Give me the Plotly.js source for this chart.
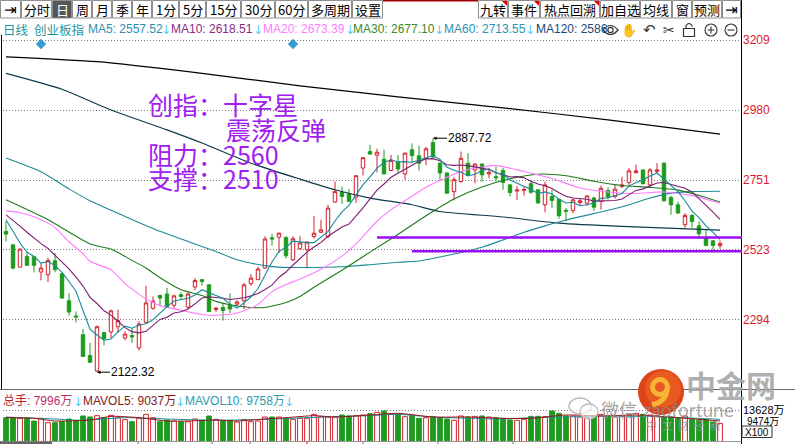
<!DOCTYPE html>
<html>
<head>
<meta charset="utf-8">
<script src="https://cdn.plot.ly/plotly-3.0.1.min.js"></script>
<style>
html,body{margin:0;padding:0;background:#ffffff;overflow:hidden;}
#chart{width:795px;height:444px;}
</style>
</head>
<body>
<div id="chart"></div>
<script>
// ================= DATA =================
const open = [2583,2539,2466,2501,2500,2450,2441,2487,2444,2356,
 2306,2245,2177,2126,2252,2254,2271,2234,2242,2202,
 2285,2331,2373,2378,2341,2376,2335,2401,2425,2408,
 2327,2334,2342,2345,2356,2412,2425,2463,2562,2564,
 2563,2490,2526,2523,2566,2580,2566,2679,2710,2706,
 2695,2790,2844,2832,2819,2782,2811,2771,2850,2830,
 2822,2874,2806,2774,2713,2746,2806,2784,2803,2771,
 2762,2782,2735,2715,2717,2739,2719,2670,2697,2688,
 2652,2651,2677,2675,2692,2681,2717,2697,2730,2743,
 2775,2784,2735,2779,2806,2694,2670,2605,2635,2601,
 2561,2552,2536];
const high = [2615,2540,2527,2517,2502,2479,2496,2512,2446,2381,
 2321,2264,2218,2275,2254,2327,2327,2256,2267,2289,
 2405,2370,2376,2398,2376,2383,2383,2430,2428,2410,
 2335,2349,2381,2358,2414,2443,2467,2567,2575,2579,
 2567,2567,2567,2551,2634,2621,2670,2746,2730,2721,
 2766,2826,2866,2853,2850,2833,2833,2840,2871,2863,
 2860,2887.72,2809,2776,2760,2844,2839,2806,2806,2790,
 2795,2790,2737,2732,2732,2746,2720,2746,2719,2690,
 2659,2690,2690,2700,2697,2733,2727,2735,2762,2790,
 2801,2786,2790,2806,2809,2700,2680,2643,2640,2615,
 2588,2554,2553];
const low = [2550,2458,2464,2470,2449,2423,2417,2449,2362,2307,
 2285,2172,2153,2122.32,2210,2234,2251,2227,2218,2193,
 2283,2327,2338,2333,2329,2361,2329,2390,2405,2320,
 2320,2291,2316,2338,2329,2405,2424,2460,2536,2512,
 2494,2486,2522,2466,2559,2577,2560,2676,2673,2679,
 2677,2766,2833,2776,2770,2781,2775,2752,2806,2782,
 2800,2825,2750,2706,2684,2742,2765,2741,2745,2757,
 2746,2719,2697,2686,2700,2706,2674,2645,2659,2624,
 2615,2642,2667,2667,2650,2654,2687,2690,2724,2730,
 2772,2736,2730,2771,2680,2637,2640,2595,2595,2558,
 2536,2521,2526];
const close = [2574,2463,2525,2472,2472,2463,2488,2458,2365,2319,
 2303,2174,2155,2271,2232,2323,2291,2247,2238,2280,
 2349,2355,2365,2335,2372,2370,2378,2422,2419,2321,
 2332,2324,2329,2352,2408,2430,2460,2558,2558,2577,
 2503,2559,2545,2548,2577,2588,2659,2713,2697,2681,
 2765,2824,2836,2842,2771,2815,2787,2839,2831,2806,
 2853,2826,2774,2708,2752,2822,2766,2803,2768,2776,
 2758,2743,2710,2718,2720,2711,2676,2735,2684,2634,
 2649,2686,2683,2699,2662,2724,2695,2721,2735,2781,
 2781,2739,2784,2784,2683,2670,2643,2635,2615,2575,
 2537,2537,2543];
// volume in 万
const volume = [10487,10487,10193,10487,9020,10193,8287,8287,8727,9900,
 9020,11220,10780,11367,10487,11513,10487,9607,8727,10193,
 11953,10487,8727,9460,9020,8727,8727,9900,9313,11220,
 9753,9313,9313,8580,9753,8727,9020,10780,10780,10780,
 10193,9753,10193,10193,11953,10927,10780,10780,11660,11220,
 11367,11660,12247,12833,13420,12247,11953,10927,11367,10193,
 10487,10927,10487,9900,9313,11220,10780,11073,11220,10780,
 10487,10193,9460,9313,9753,11073,11073,10927,13420,12393,
 11220,11220,10780,10633,10927,11953,11073,10780,11073,11660,
 12393,11953,11660,11367,10633,10780,10193,11220,9700,9400,
 9700,8600,7996];
const ma5 = [2621,2585,2545,2515,2501,2479,2484,2471,2449,2419,
 2387,2324,2263,2244,2227,2231,2254,2273,2266,2276,
 2281,2294,2317,2337,2355,2359,2364,2375,2392,2382,
 2374,2364,2345,2332,2349,2369,2396,2442,2483,2517,
 2531,2551,2548,2546,2546,2563,2583,2617,2647,2668,
 2703,2736,2761,2790,2808,2818,2810,2811,2809,2816,
 2823,2831,2818,2793,2783,2776,2764,2770,2782,2787,
 2774,2770,2751,2741,2730,2720,2707,2712,2705,2688,
 2676,2678,2667,2670,2676,2691,2693,2700,2707,2731,
 2743,2751,2764,2774,2754,2732,2713,2683,2649,2628,
 2601,2580,2557];
const ma10 = [2637,2620,2600,2580,2560,2543,2527,2505,2482,2460,
 2433,2404,2367,2347,2323,2309,2289,2268,2255,2251,
 2256,2274,2295,2302,2316,2320,2329,2346,2365,2369,
 2367,2364,2360,2362,2366,2372,2380,2393,2407,2433,
 2450,2473,2495,2515,2532,2547,2567,2583,2597,2607,
 2633,2660,2689,2718,2738,2760,2773,2786,2799,2812,
 2820,2821,2814,2801,2799,2800,2798,2794,2788,2785,
 2775,2767,2761,2762,2758,2747,2738,2732,2723,2709,
 2698,2692,2690,2688,2682,2683,2685,2684,2689,2704,
 2717,2722,2732,2741,2743,2737,2732,2724,2712,2691,
 2667,2646,2622];
const ma20Idx = [0,2,4,6,7,9,11,12,15,17,20,22,25,28,30,33,36,38,40,42,45,48,50,53,55,58,60,63,66,70,74,78,82,86,90,94,98,102];
const ma20 = [2650,2644,2631,2610,2595,2549,2510,2485,2457,2412,2362,2340,2325,2311,2308,2316,2344,2386,2409,2427,2459,2502,2542,2616,2654,2698,2727,2760,2785,2798,2779,2756,2725,2712,2707,2712,2700,2675];
const ma30Idx = [0,6,12,15,17,20,22,25,28,30,32,35,37,40,42,44,48,52,56,60,64,68,72,76,80,84,88,92,96,100,102];
const ma30 = [2686,2621,2542,2525,2501,2463,2431,2392,2373,2354,2343,2334,2334,2350,2370,2400,2456,2515,2573,2634,2689,2728,2755,2770,2765,2747,2733,2727,2718,2694,2679];
const ma60Idx = [0,5,9,12,17,22,26,30,33,37,39,43,48,52,56,59,62,65,68,71,74,77,80,83,86,89,92,95,98,102];
const ma60 = [2823,2778,2722,2683,2632,2583,2550,2517,2490,2471,2466,2465,2467,2474,2482,2486,2499,2514,2531,2555,2580,2601,2620,2636,2652,2670,2692,2708,2713,2714];
const ma120Idx = [0,8,15,23,28,35,42,47,52,58,62,71,79,88,102];
const ma120 = [3100,3048,2980,2915,2872,2806,2754,2719,2692,2670,2648,2630,2610,2599,2587];
const ma250Idx = [0,13,28,42,56,71,86,102];
const ma250 = [3154,3138,3100,3059,3023,2987,2948,2901];
const mavol5Idx = [0,4,7,12,15,19,23,26,30,33,37,40,44,47,52,56,61,66,71,75,80,85,90,94,99,102];
const mavol5 = [10487,10193,9020,9460,11073,10487,9020,9020,9460,9020,9900,10487,11367,10780,11660,12393,10780,10780,10193,10193,11660,11220,11660,10927,9753,9037];
const mavol10Idx = [0,8,11,17,23,30,37,43,47,52,56,61,66,71,75,80,85,90,94,99,102];
const mavol10 = [10780,9753,9313,10487,9900,9313,9753,10487,10927,11367,11953,10780,10193,9900,10487,10780,11220,11073,10780,10193,9758];

const priceTicks = [3209, 2980, 2751, 2523, 2294];
const volTicks = [13628];
const volTickText = ['13628万'];
const volMidLabel = '9474万';
const volUnit = 'X100';
const eventIdx = [5, 41];
const eventLevel = 3196;
const highIdx = 61, highVal = 2887.72;
const lowIdx = 13, lowVal = 2122.32;
const resistLevel = 2563, resistStart = 53;
const supportLevel = 2518, supportStart = 58;
const indexName = '创业板指';
const maNames = ['MA5', 'MA10', 'MA20', 'MA30', 'MA60', 'MA120'];
const maLast = ['2557.52', '2618.51', '2673.39', '2677.10', '2713.55', '2586'];
const volLast = '7996万', mavol5Last = '9037万', mavol10Last = '9758万';
const noteLines = ['创指：十字星', '震荡反弹', '阻力：2560', '支撑：2510'];
const leftButtons = ['⇥','分时','日','周','月','季','年','1分','5分','15分','30分','60分','多周期','设置'];
const rightButtons = ['九转','事件','热点回溯','加自选','均线','窗','预测','⇥'];

// ================= STYLE / LAYOUT =================
const W = 795, H = 444;
const RED = '#D2202A', GREEN = '#1E9B1E';
const CJK = 'Noto Sans CJK SC';
const LAT = 'Liberation Sans, Arial, Noto Sans CJK SC, sans-serif';
const dayIdx = close.map((_, i) => i);
const isUp = close.map((c, i) => c >= open[i]);

const traces = [];
traces.push({type:'candlestick', x:dayIdx, open:open, high:high, low:low, close:close,
  xaxis:'x', yaxis:'y', whiskerwidth:0, hoverinfo:'skip', showlegend:false,
  increasing:{line:{color:RED, width:1}, fillcolor:'#FFFFFF'},
  decreasing:{line:{color:GREEN, width:1}, fillcolor:GREEN}});
function lineTr(xs, ys, color, yaxis, smooth, width) {
  return {type:'scatter', mode:'lines', x:xs, y:ys, xaxis:'x', yaxis:yaxis || 'y',
    line:{color:color, width:width || 1.1, shape: smooth ? 'spline' : 'linear', smoothing: smooth ? 0.6 : undefined},
    hoverinfo:'skip', showlegend:false};
}
traces.push(lineTr(ma250Idx, ma250, '#000000', 'y', true, 1.2));
traces.push(lineTr(ma120Idx, ma120, '#0B3A48', 'y', true, 1.2));
traces.push(lineTr(ma60Idx, ma60, '#1E8A96', 'y', true));
traces.push(lineTr(ma30Idx, ma30, '#1D7A1D', 'y', true));
traces.push(lineTr(ma20Idx, ma20, '#FF7CFF', 'y', true));
traces.push(lineTr(dayIdx, ma10, '#7D1E6F', 'y', false));
traces.push(lineTr(dayIdx, ma5, '#168C9C', 'y', false));
traces.push({type:'scatter', mode:'markers', x:eventIdx, y:eventIdx.map(() => eventLevel),
  xaxis:'x', yaxis:'y', marker:{symbol:'diamond', size:8, color:'#3A9AD6'}, hoverinfo:'skip', cliponaxis:false});
traces.push({type:'bar', x:dayIdx, y:volume, xaxis:'x', yaxis:'y2', width:0.68,
  marker:{color:isUp.map(u => u ? '#FFFFFF' : GREEN), line:{color:isUp.map(u => u ? RED : GREEN), width:1}},
  hoverinfo:'skip', showlegend:false});
traces.push(lineTr(mavol10Idx, mavol10, '#1E8C9C', 'y2', true, 1));
traces.push(lineTr(mavol5Idx, mavol5, '#9A1414', 'y2', true, 1));
// pixel helper subplot
traces.push({type:'scatter', mode:'markers', x:[0], y:[0], xaxis:'x3', yaxis:'y3', marker:{opacity:0}, hoverinfo:'skip'});

const shapes = [];
const ann = [];
function R(x0, y0, x1, y1, o) { shapes.push(Object.assign({type:'rect', x0:x0, y0:y0, x1:x1, y1:y1, xref:'x3', yref:'y3', layer:'above', line:{width:0}}, o || {})); }
function L(x0, y0, x1, y1, color, width, dash) { shapes.push({type:'line', x0:x0, y0:y0, x1:x1, y1:y1, xref:'x3', yref:'y3', layer:'above', line:{color:color, width:width || 1, dash:dash || 'solid'}}); }
function C(cx, cy, r, o) { shapes.push(Object.assign({type:'circle', x0:cx - r, y0:cy - r, x1:cx + r, y1:cy + r, xref:'x3', yref:'y3', layer:'above'}, o)); }
function T(x, y, text, size, color, o) { ann.push(Object.assign({x:x, y:y, xref:'x3', yref:'y3', text:text, showarrow:false, xanchor:'left', yanchor:'middle', borderpad:0, font:{family:LAT, size:size, color:color}}, o || {})); }

// ---- toolbar ----
const leftEdges = [0,21,52,72,92,112,132,152,179,206,241,275,308,352,383];
leftButtons.forEach((b, i) => {
  const x0 = leftEdges[i], x1 = leftEdges[i + 1];
  const sel = b === '日';
  R(x0 + 0.5, 0.5, x1 - 0.5, 18, {fillcolor: sel ? '#575757' : '#FFFFFF', line:{color:'#8E8E8E', width:1}});
  T((x0 + x1) / 2, 9.5, b, 13, '#000', {xanchor:'center', font:{family: b === '⇥' ? 'DejaVu Sans' : CJK, size: b === '⇥' ? 15 : 13, color: sel ? '#FFFFFF' : '#000000'}});
});
const rightEdges = [478,508,540,600,640,672,692,722,741];
rightButtons.forEach((b, i) => {
  const x0 = rightEdges[i], x1 = rightEdges[i + 1];
  R(x0 + 0.5, 0.5, x1 - 0.5, 18, {fillcolor:'#FFFFFF', line:{color:'#8E8E8E', width:1}});
  T((x0 + x1) / 2, 9.5, b, 13, '#000', {xanchor:'center', font:{family: b === '⇥' ? 'DejaVu Sans' : CJK, size: b === '⇥' ? 15 : 13, color:'#000'}});
  if (i < 3) shapes.push({type:'path', xref:'x3', yref:'y3', layer:'above', path:`M${x1 - 6},1 L${x1 - 1},1 L${x1 - 1},6 Z`, fillcolor:'#E00000', line:{width:0}});
});
R(383, 0, 478, 1.6, {fillcolor:'#A00000'});

// ---- legend row ----
T(2, 29, '日线', 12.5, '#1A96A0', {font:{family:CJK, size:12.5, color:'#1A96A0'}});
T(33, 29, indexName, 12.5, '#1A96A0', {font:{family:CJK, size:12.5, color:'#1A96A0'}});
const maLblX = [87, 170, 262, 352, 443, 535];
const maLblC = ['#2A8FB2', '#8B2A7E', '#FF7CFF', '#3E8A26', '#2A92B2', '#1C4678'];
const arrowX = [160, 252, 344, 433, 524];
maNames.forEach((n, i) => {
  T(maLblX[i], 29, n + ': ' + maLast[i], 12, maLblC[i]);
  if (i < 5) T(arrowX[i], 30, '↓', 12, '#5CC8F2', {font:{family:'DejaVu Sans', size:12, color:'#5CC8F2'}});
});
// toolbar icons
R(603, 22, 740, 37, {fillcolor:'#FFFFFF', layer:'above'});
shapes.push({type:'path', xref:'x3', yref:'y3', layer:'above', path:'M603,30 Q610.5,21 618,30 Q610.5,39 603,30 Z', line:{color:'#333', width:1.2}});
C(610.5, 30, 2.6, {line:{color:'#333', width:1.2}});
T(629, 30, '✋', 13, '#333', {xanchor:'center', font:{family:'DejaVu Sans', size:13, color:'#333'}});
T(649, 30, '↶', 15, '#333', {xanchor:'center', font:{family:'DejaVu Sans', size:15, color:'#333'}});
T(668.5, 30, '✂', 14, '#333', {xanchor:'center', font:{family:'DejaVu Sans', size:14, color:'#333'}});
R(683.5, 28.5, 694.5, 36.5, {line:{color:'#333', width:1.2}});
shapes.push({type:'path', xref:'x3', yref:'y3', layer:'above', path:'M686,28.5 L686,25.5 Q689,21.5 692,25.5 L692,26.5', line:{color:'#333', width:1.2}});
C(711, 30, 6, {line:{color:'#333', width:1.1}});
L(707.5, 30, 714.5, 30, '#333', 1.1); L(711, 26.5, 711, 33.5, '#333', 1.1);
C(731, 30, 6, {line:{color:'#333', width:1.1}});
L(727.5, 30, 734.5, 30, '#333', 1.1);

// ---- frame lines ----
L(741.5, 0, 741.5, 444, '#000', 1);
L(1.5, 35, 1.5, 389, '#000', 1);
L(0, 389.5, 795, 389.5, '#666', 1);
L(0, 441.5, 741.5, 441.5, '#999', 1);
R(0, 441.5, 52, 444, {fillcolor:'#666'});
[138, 212, 250, 363, 438, 513].forEach(x => L(x, 441.5, x, 444, '#777', 1));
L(307, 441.5, 307, 444, '#E00', 1);

// ---- support / resistance lines (price axis) ----
shapes.push({type:'line', xref:'x', yref:'y', x0:resistStart, x1:105.14, y0:resistLevel, y1:resistLevel, line:{color:'#9A0CF5', width:2.4}, layer:'above'});
shapes.push({type:'line', xref:'x', yref:'y', x0:supportStart, x1:105.14, y0:supportLevel, y1:supportLevel, line:{color:'#9A0CF5', width:2.4}, layer:'above'});

// ---- commentary ----
const noteX = [147, 225, 147, 147], noteY = [103.5, 128.5, 153.5, 178];
noteLines.forEach((t, i) => T(noteX[i], noteY[i], t, 25, '#A020F0', {font:{family:CJK, size:25, color:'#A020F0'}}));

// ---- high / low labels ----
ann.push({x:highIdx, y:highVal, xref:'x', yref:'y', text:String(highVal), showarrow:true, ax:14, ay:0, xanchor:'left', yanchor:'middle',
  arrowhead:2, arrowsize:0.7, arrowwidth:1, arrowcolor:'#000', standoff:0, borderpad:0, font:{family:LAT, size:12, color:'#000'}});
ann.push({x:lowIdx, y:lowVal, xref:'x', yref:'y', text:String(lowVal), showarrow:true, ax:13, ay:0, xanchor:'left', yanchor:'middle',
  arrowhead:2, arrowsize:0.7, arrowwidth:1, arrowcolor:'#000', standoff:0, borderpad:0, font:{family:LAT, size:12, color:'#000'}});

// ---- volume header ----
T(2, 401, '<span style="color:#BE1E2D">总手: </span><span style="color:#C2306A">' + volLast + '</span>', 12, '#BE1E2D');
T(72, 402, '↓', 12, '#5CC8F2', {font:{family:'DejaVu Sans', size:12, color:'#5CC8F2'}});
T(82, 401, 'MAVOL5: ' + mavol5Last, 12, '#861818');
T(174, 402, '↓', 12, '#5CC8F2', {font:{family:'DejaVu Sans', size:12, color:'#5CC8F2'}});
T(184, 401, 'MAVOL10: ' + mavol10Last, 12, '#2A9AB2');
T(283, 402, '↓', 12, '#5CC8F2', {font:{family:'DejaVu Sans', size:12, color:'#5CC8F2'}});

// ---- watermark ----
shapes.push({type:'circle', xref:'x3', yref:'y3', layer:'above', x0:569, y0:398, x1:591, y1:414, fillcolor:'rgba(255,255,255,0.6)', line:{color:'#BDBDBD', width:1.4}});
shapes.push({type:'circle', xref:'x3', yref:'y3', layer:'above', x0:580, y0:404, x1:598, y1:419, fillcolor:'rgba(255,255,255,0.6)', line:{color:'#BDBDBD', width:1.4}});
T(600, 409, '微信', 18, '#9E9E9E', {font:{family:CJK, size:18, color:'rgba(150,150,150,0.9)'}});
T(642, 409, 'zaofortune', 19, '#999', {font:{family:'Lato, Liberation Sans', size:19, color:'rgba(140,140,140,0.75)'}});
T(645, 425, '中  文  财  经  新', 11, '#A0A0A0', {font:{family:CJK, size:11, color:'rgba(150,150,150,0.9)'}});
C(661, 392, 23, {fillcolor:'#DE4419', line:{width:0}});
C(663, 389, 18, {fillcolor:'#E85A20', line:{width:0}});
// yellow swirl of the logo
C(660, 387, 7.5, {fillcolor:'rgba(0,0,0,0)', line:{color:'#F8B436', width:5}});
shapes.push({type:'path', xref:'x3', yref:'y3', layer:'above', path:'M667,389 Q667,401 652,405', line:{color:'#F8B436', width:5}});
C(660, 387, 2.5, {fillcolor:'#E85A20', line:{width:0}});
T(685, 384, '中金网', 30, '#B0B0B0', {font:{family:CJK, size:30, color:'rgba(165,165,165,0.9)', weight:'bold'}});

// ---- volume axis extra labels ----
T(746, 421.5, volMidLabel, 10, '#000');
R(742, 426, 772, 437.5, {line:{color:'#333', width:1}});
T(744, 432, volUnit, 10, '#000');

const layout = {
  width:W, height:H, margin:{l:0, r:0, t:0, b:0, pad:0},
  paper_bgcolor:'#FFFFFF', plot_bgcolor:'rgba(0,0,0,0)', showlegend:false,
  boxgap:0.3, bargap:0,
  font:{family:LAT, size:12, color:'#000'},
  xaxis:{domain:[3 / W, 742 / W], range:[-0.4286, 105.143], visible:false, rangeslider:{visible:false}, fixedrange:true, anchor:'y'},
  yaxis:{domain:[1 - 389 / H, 1 - 35 / H], range:[2067.3, 3225.36], side:'right', anchor:'x',
    tickvals:priceTicks, ticktext:priceTicks.map(String), tickfont:{family:LAT, size:12, color:'#E0182D'},
    showgrid:true, gridcolor:'#7A7A7A', gridwidth:1, griddash:'1px,2px', zeroline:false, showline:false, ticks:'', fixedrange:true},
  yaxis2:{domain:[1 - 441.5 / H, 1 - 390 / H], range:[0, 22660], side:'right', anchor:'x',
    tickvals:volTicks, ticktext:volTickText, tickfont:{family:LAT, size:11, color:'#000'},
    showgrid:true, gridcolor:'#7A7A7A', gridwidth:1, griddash:'1px,2px', zeroline:false, showline:false, ticks:'', fixedrange:true},
  xaxis3:{domain:[0, 1], range:[0, W], visible:false, anchor:'y3', fixedrange:true},
  yaxis3:{domain:[0, 1], range:[H, 0], visible:false, anchor:'x3', fixedrange:true},
  shapes:shapes, annotations:ann
};
Plotly.newPlot('chart', traces, layout, {staticPlot:true, displayModeBar:false});
</script>
</body>
</html>
